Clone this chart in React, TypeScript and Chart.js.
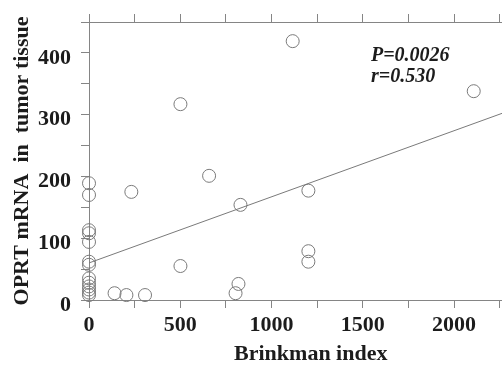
import React, { useEffect, useRef } from "react";
import { Chart, registerables } from "chart.js";

Chart.register(...registerables);

// Brinkman index (x) and OPRT mRNA in tumor tissue (y)
const brinkmanIndex = [
  1116, 2108, 501, 658, 232, 830, 1202, 1202, 1202, 501, 819, 803, 140, 205, 307,
  0, 0, 0, 0, 0, 0, 0, 0, 0, 0, 0, 0, 0,
];
const oprtMrna = [
  419, 338, 317, 201, 175, 154, 177, 79, 62, 55, 26, 11, 11, 8, 8,
  189, 170, 113, 108, 94, 62, 57, 35, 28, 22, 17, 12, 8,
];
// regression line endpoints
const fitX = [0, 2430];
const fitY = [60, 320];

const xTickLabels = ["0", "500", "1000", "1500", "2000"];
const yTickLabels = ["0", "100", "200", "300", "400"];
const statLines = ["P=0.0026", "r=0.530"];

const xTitle = "Brinkman index";
const yTitle = "OPRT mRNA  in  tumor tissue";

const SERIF = '"Liberation Serif", "Times New Roman", serif';
const AXIS_COLOR = "#858585";
const MARK_COLOR = "#7a7a7a";
const TEXT_COLOR = "#1c1c1c";

const statsPlugin = {
  id: "stats",
  afterDraw(chart: any) {
    const ctx = chart.ctx;
    ctx.save();
    ctx.font = `italic bold 20px ${SERIF}`;
    ctx.fillStyle = TEXT_COLOR;
    ctx.textBaseline = "alphabetic";
    ctx.textAlign = "left";
    ctx.fillText(statLines[0], 371, 61);
    ctx.fillText(statLines[1], 371, 82);
    ctx.restore();
  },
};

export default function App() {
  const ref = useRef<HTMLCanvasElement | null>(null);

  useEffect(() => {
    if (!ref.current) return;
    const points = brinkmanIndex.map((x, i) => ({ x, y: oprtMrna[i] }));
    const line = fitX.map((x, i) => ({ x, y: fitY[i] }));
    const tickFont = { family: SERIF, size: 22, weight: "bold" as const, lineHeight: 1 };

    const chart = new Chart(ref.current, {
      type: "scatter",
      data: {
        datasets: [
          {
            type: "line",
            data: line,
            borderColor: MARK_COLOR,
            borderWidth: 1,
            pointRadius: 0,
            fill: false,
          } as any,
          {
            data: points,
            pointRadius: 6.5,
            pointBorderWidth: 1,
            pointBorderColor: MARK_COLOR,
            pointBackgroundColor: "rgba(0,0,0,0)",
            clip: false,
          } as any,
        ],
      },
      options: {
        animation: false,
        responsive: false,
        devicePixelRatio: 1,
        layout: { padding: 0 },
        plugins: {
          legend: { display: false },
          tooltip: { enabled: false },
        },
        scales: {
          x: {
            type: "linear",
            position: "bottom",
            min: 0,
            max: 2430,
            afterFit: (s: any) => {
              s.height = 65;
            },
            border: { color: AXIS_COLOR, width: 1 },
            grid: {
              drawOnChartArea: false,
              drawTicks: true,
              tickLength: 8,
              color: AXIS_COLOR,
            },
            ticks: {
              stepSize: 250,
              includeBounds: false,
              padding: 6,
              maxRotation: 0,
              autoSkip: false,
              color: TEXT_COLOR,
              font: tickFont,
              callback: (v: any) => {
                const s = String(v);
                return xTickLabels.includes(s) ? s : "";
              },
            },
            title: {
              display: true,
              text: xTitle,
              color: TEXT_COLOR,
              font: tickFont,
              padding: { top: 0, bottom: 0 },
            },
          },
          x2: {
            type: "linear",
            position: "top",
            min: 0,
            max: 2430,
            afterFit: (s: any) => {
              s.height = 22;
            },
            border: { color: AXIS_COLOR, width: 1 },
            grid: {
              drawOnChartArea: false,
              drawTicks: true,
              tickLength: 8,
              color: AXIS_COLOR,
            },
            ticks: {
              stepSize: 250,
              includeBounds: false,
              autoSkip: false,
              callback: () => "",
            },
          },
          y: {
            type: "linear",
            position: "left",
            min: 0,
            max: 450,
            afterFit: (s: any) => {
              s.width = 89;
            },
            border: { color: AXIS_COLOR, width: 1 },
            grid: {
              drawOnChartArea: false,
              drawTicks: true,
              tickLength: 8,
              color: AXIS_COLOR,
            },
            ticks: {
              stepSize: 50,
              autoSkip: false,
              padding: 10,
              labelOffset: 5,
              color: TEXT_COLOR,
              font: tickFont,
              callback: (v: any) => {
                const s = String(v);
                return yTickLabels.includes(s) ? s : "";
              },
            },
            title: {
              display: true,
              text: yTitle,
              color: TEXT_COLOR,
              font: tickFont,
              padding: { top: 11, bottom: 0 },
            },
          },
        },
      },
      plugins: [statsPlugin],
    });
    return () => chart.destroy();
  }, []);

  return (
    <div
      style={{
        position: "fixed",
        left: 0,
        top: 0,
        width: 502,
        height: 365,
        overflow: "hidden",
        background: "#fff",
      }}
    >
      <canvas ref={ref} width={540} height={365} style={{ width: 540, height: 365, display: "block" }} />
    </div>
  );
}
